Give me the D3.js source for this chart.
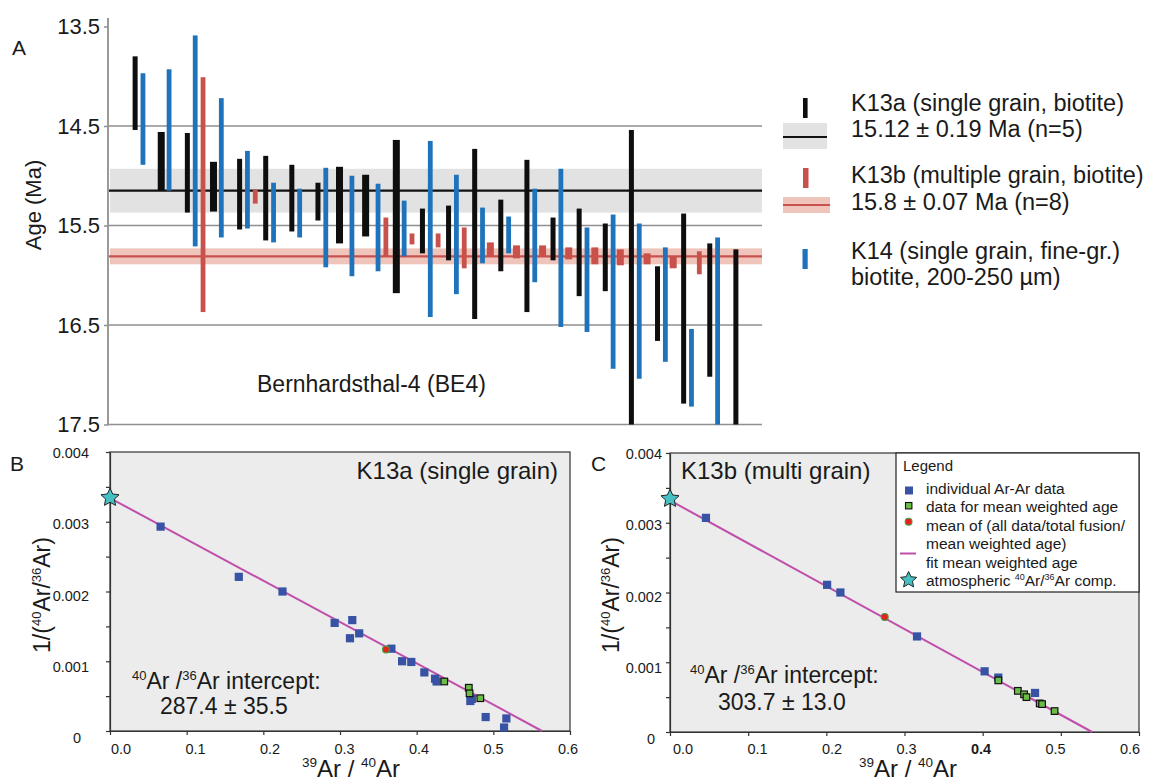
<!DOCTYPE html>
<html><head><meta charset="utf-8">
<script src="https://cdn.jsdelivr.net/npm/d3@7"></script>
<style>
body{margin:0;background:#fff}
svg{display:block}
text{font-family:"Liberation Sans",Arial,Helvetica,sans-serif;fill:#1a1a1a;white-space:pre}
</style>
</head><body>
<svg id="c" width="1154" height="783"></svg>
<script>
// ---------------- DATA ----------------
// Panel A: step-heating ages, [position along sequence (0-100), young age, old age] in Ma
const k13aBars = [
  [4,13.80,14.54],[8,14.56,15.15],[12,14.57,15.37],[16,14.86,15.36],[20,14.83,15.54],
  [24,14.80,15.65],[28,14.89,15.56],[32,15.07,15.45],[35.3,14.91,15.68],[39.3,14.99,15.61],
  [44,14.64,16.18],[48,15.33,15.78],[52,15.30,15.85],[56,14.73,16.44],[60,15.24,15.96],
  [64,14.84,16.37],[68,15.42,15.85],[72,15.33,16.21],[76,15.48,16.16],[80,14.54,17.5],
  [84,15.91,16.66],[88,15.38,17.29],[92,15.68,17.02],[96,15.74,17.5]
];
const k13bBars = [
  [14.4,14.01,16.37],[22.4,15.14,15.28],[42.4,15.42,15.81],[46.4,15.58,15.69],[50.4,15.58,15.72],
  [54.4,15.52,15.93],[58.4,15.67,15.81],[62.4,15.70,15.83],[66.4,15.70,15.81],[70.4,15.72,15.84],
  [74.4,15.72,15.89],[78.3,15.74,15.90],[82.4,15.78,15.89],[86.4,15.81,15.93],[90.4,15.76,15.99]
];
const k14Bars = [
  [5.2,13.97,14.89],[9.2,13.93,15.15],[13.2,13.59,15.71],[17.2,14.22,15.62],[21.2,14.75,15.53],
  [25.2,15.07,15.67],[29.2,15.13,15.62],[33.2,14.92,15.92],[37.2,15.00,16.01],[41.2,15.08,15.96],
  [45.2,15.25,15.81],[49.2,14.65,16.42],[53.2,14.99,16.19],[57.2,15.32,15.88],[61.2,15.41,15.78],
  [65.2,15.13,16.07],[69.2,14.93,16.52],[73.2,15.52,16.57],[77.2,15.39,16.94],[81.2,15.48,17.04],
  [85.2,15.72,16.87],[89.2,16.54,17.32],[93.2,15.62,17.5]
];
// weighted means [mean, band young, band old]
const k13aMean = [15.15, 14.93, 15.37];
const k13bMean = [15.81, 15.73, 15.89];
const ageTicks = [13.5, 14.5, 15.5, 16.5, 17.5];
const ageGrid = [14.5, 15.5, 16.5, 17.5];

// Panel B (K13a isochron)
const bBlueX = [0.066,0.168,0.225,0.293,0.316,0.313,0.325,0.367,0.381,0.393,0.410,0.424,0.426,0.470,0.472,0.490,0.517,0.514];
const bBlueY = [0.00293,0.00221,0.00200,0.00155,0.00159,0.00133,0.00140,0.00118,0.00100,0.00099,0.00084,0.00075,0.00071,0.00043,0.00046,0.00020,0.00018,0.00005];
const bGreenX = [0.436,0.468,0.469,0.483];
const bGreenY = [0.00071,0.00062,0.00054,0.00047];
const bMean = [0.360, 0.00117];
const bFit = [[0, 0.00334],[0.5635, 0]];

// Panel C (K13b isochron)
const cBlueX = [0.046,0.201,0.218,0.316,0.4025,0.420,0.467];
const cBlueY = [0.00307,0.00211,0.00200,0.00137,0.00087,0.00078,0.00056];
const cGreenX = [0.420,0.445,0.453,0.456,0.473,0.476,0.492];
const cGreenY = [0.00074,0.00059,0.00054,0.00050,0.00041,0.00040,0.00030];
const cMean = [0.2747, 0.00165];
const cFit = [[0, 0.00332],[0.54, 0]];

const atmPoint = [0, 0.003345];
const isoXTicks = [0, 0.1, 0.2, 0.3, 0.4, 0.5, 0.6];
const isoYTicks = [0, 0.001, 0.002, 0.003, 0.004];

// ---------------- STYLE ----------------
const COL = {black:'#0e0e0e', blue:'#1f73bb', red:'#c9514c', gray:'#e2e2e2', pink:'#efc4ba',
  grid:'#8f8f8f', sqBlue:'#3953a4', sqGreen:'#6abd45', dotRed:'#e8211d', star:'#45c1c3', fit:'#c04fab', frame:'#ebeceb'};
const wideK13a = new Set([1,3,8,9,10]);          // indices drawn wider
const wideK13b = new Set([6,7,8,9,10,11,12,13]);

const svg = d3.select('#c');

function rich(g, x, y, parts, size, supSize, anchor){
  const t = g.append('text').attr('x',x).attr('y',y).attr('font-size',size).attr('text-anchor',anchor||'start');
  let prev = false;
  parts.forEach(([s,sup]) => {
    const ts = t.append('tspan').text(s);
    if (sup){ ts.attr('font-size',supSize); if(!prev) ts.attr('dy', -size*0.4); }
    else if (prev) ts.attr('dy', size*0.4);
    prev = sup;
  });
  return t;
}
function starPath(cx, cy, R){
  const pts = d3.range(10).map(i => {
    const r = i%2 ? R*0.48 : R; const a = -Math.PI/2 + i*Math.PI/5;
    return [cx + r*Math.cos(a), cy + r*Math.sin(a)];
  });
  return d3.line()(pts) + 'Z';
}

// ---------------- PANEL A ----------------
const A = svg.append('g');
const xA = d3.scaleLinear().domain([0,100]).range([109,762]);
const yA = d3.scaleLinear().domain([13.5,17.5]).range([26.5,424.5]);

A.append('rect').attr('x',xA(0)+1).attr('width',xA(100)-xA(0)-1)
  .attr('y',yA(k13aMean[1])).attr('height',yA(k13aMean[2])-yA(k13aMean[1])).attr('fill',COL.gray);
A.append('rect').attr('x',xA(0)+1).attr('width',xA(100)-xA(0)-1)
  .attr('y',yA(k13bMean[1])).attr('height',yA(k13bMean[2])-yA(k13bMean[1])).attr('fill',COL.pink);

A.selectAll('line.grid').data(ageGrid).join('line').attr('class','grid')
  .attr('x1',xA(0)).attr('x2',xA(100)).attr('y1',d=>yA(d)).attr('y2',d=>yA(d))
  .attr('stroke',COL.grid).attr('stroke-width',1.6);

A.append('line').attr('x1',xA(0)).attr('x2',xA(100)).attr('y1',yA(k13aMean[0])).attr('y2',yA(k13aMean[0]))
  .attr('stroke','#111').attr('stroke-width',2.2);
A.append('line').attr('x1',xA(0)).attr('x2',xA(100)).attr('y1',yA(k13bMean[0])).attr('y2',yA(k13bMean[0]))
  .attr('stroke',COL.red).attr('stroke-width',2.2);

const axA = A.append('g').attr('transform',`translate(${xA(0)-1},0)`)
  .call(d3.axisLeft(yA).tickValues(ageTicks).tickSizeInner(4).tickSizeOuter(0).tickPadding(4).tickFormat(d3.format('.1f')));
axA.select('.domain').remove();
axA.selectAll('line').attr('stroke',COL.grid).attr('stroke-width',1.5);
axA.selectAll('text').attr('font-size',22).attr('fill','#1a1a1a').attr('font-family','"Liberation Sans",Arial,sans-serif');
A.append('line').attr('x1',xA(0)-1).attr('x2',xA(0)-1).attr('y1',18).attr('y2',yA(17.5)+1)
  .attr('stroke',COL.grid).attr('stroke-width',1.8);

function bars(data, color, wideSet, wN, wW){
  A.append('g').selectAll('rect').data(data).join('rect')
    .attr('x',(d,i)=>xA(d[0]) - (wideSet.has(i)?wW:wN)/2)
    .attr('width',(d,i)=>wideSet.has(i)?wW:wN)
    .attr('y',d=>yA(d[1])).attr('height',d=>yA(d[2])-yA(d[1]))
    .attr('fill',color);
}
bars(k13aBars, COL.black, wideK13a, 5, 7);
bars(k14Bars, COL.blue, new Set(), 4.8, 4.8);
bars(k13bBars, COL.red, wideK13b, 4.8, 7);

A.append('text').attr('x',12).attr('y',55).attr('font-size',21).text('A');
A.append('g').attr('transform','translate(41,205) rotate(-90)')
  .append('text').attr('text-anchor','middle').attr('font-size',22).text('Age (Ma)');
A.append('text').attr('x',257).attr('y',392).attr('font-size',23).text('Bernhardsthal-4 (BE4)');

// Legend A
const LA = svg.append('g');
LA.append('rect').attr('x',803).attr('y',98).attr('width',4.6).attr('height',20).attr('fill',COL.black);
LA.append('rect').attr('x',783).attr('y',123).attr('width',44).attr('height',26).attr('fill',COL.gray);
LA.append('line').attr('x1',783).attr('x2',827).attr('y1',137).attr('y2',137).attr('stroke','#111').attr('stroke-width',2);
LA.append('rect').attr('x',803).attr('y',168).attr('width',5.5).attr('height',20).attr('fill',COL.red);
LA.append('rect').attr('x',783).attr('y',197).attr('width',47).attr('height',16).attr('fill',COL.pink);
LA.append('line').attr('x1',783).attr('x2',830).attr('y1',205).attr('y2',205).attr('stroke',COL.red).attr('stroke-width',2);
LA.append('rect').attr('x',802.5).attr('y',249).attr('width',5.2).attr('height',20).attr('fill',COL.blue);
const legALines = [
  ['K13a (single grain, biotite)',111],['15.12 ± 0.19 Ma (n=5)',137],
  ['K13b (multiple grain, biotite)',183],['15.8 ± 0.07 Ma (n=8)',210],
  ['K14 (single grain, fine-gr.)',259],['biotite, 200-250 µm)',285]];
LA.selectAll('text').data(legALines).join('text').attr('x',851).attr('y',d=>d[1]).attr('font-size',23.5).text(d=>d[0]);

// ---------------- ISOCHRON PANELS ----------------
function iso(cfg){
  const g = svg.append('g');
  const xS = d3.scaleLinear().domain([0,0.6]).range([cfg.L,cfg.R]);
  const yS = d3.scaleLinear().domain([0,0.004]).range([cfg.B,cfg.T]);
  const xLab = d3.scaleLinear().domain([0,0.6]).range(cfg.xLab);
  const yLab = d3.scaleLinear().domain([0,0.004]).range(cfg.yLab);
  g.append('rect').attr('x',cfg.L).attr('y',cfg.T).attr('width',cfg.R-cfg.L).attr('height',cfg.B-cfg.T)
    .attr('fill',COL.frame).attr('stroke','#333').attr('stroke-width',1.2);
  const ay = g.append('g').attr('transform',`translate(${cfg.L},0)`)
    .call(d3.axisLeft(yS).tickValues(d3.range(0,0.00401,0.0005)).tickSizeInner(4).tickSizeOuter(0).tickFormat(''));
  const ax = g.append('g').attr('transform',`translate(0,${cfg.B})`)
    .call(d3.axisBottom(xS).tickValues(isoXTicks).tickSizeInner(4).tickSizeOuter(0).tickFormat(''));
  [ay,ax].forEach(a=>{a.selectAll('line,path').attr('stroke','#333').attr('stroke-width',1.2);});
  g.selectAll('text.xl').data(isoXTicks).join('text').attr('class','xl')
    .attr('x',d=>xLab(d)).attr('y',cfg.xLabY).attr('text-anchor','middle').attr('font-size',14.5)
    .attr('font-weight',d=>cfg.boldX===d?'bold':'normal').text(d=>d3.format('.1f')(d));
  g.selectAll('text.yl').data(isoYTicks).join('text').attr('class','yl')
    .attr('x',d=>d===0?cfg.zeroX:cfg.yLabX).attr('y',d=>yLab(d)).attr('dy','0.35em')
    .attr('text-anchor','end').attr('font-size',14.5).text(d=>d===0?'0':d3.format('.3f')(d));
  // fit line
  g.append('path').attr('d',d3.line().x(d=>xS(d[0])).y(d=>yS(d[1]))(cfg.fit))
    .attr('stroke',COL.fit).attr('stroke-width',2).attr('fill','none');
  const s = 8.2;
  g.append('g').selectAll('rect').data(d3.zip(cfg.bx,cfg.by)).join('rect')
    .attr('x',d=>xS(d[0])-s/2).attr('y',d=>yS(d[1])-s/2).attr('width',s).attr('height',s)
    .attr('fill',COL.sqBlue);
  const sg = 6.6;
  g.append('g').selectAll('rect').data(d3.zip(cfg.gx,cfg.gy)).join('rect')
    .attr('x',d=>xS(d[0])-sg/2).attr('y',d=>yS(d[1])-sg/2).attr('width',sg).attr('height',sg)
    .attr('fill',COL.sqGreen).attr('stroke','#111').attr('stroke-width',1.2);
  g.append('circle').attr('cx',xS(cfg.mean[0])).attr('cy',yS(cfg.mean[1])).attr('r',3.4)
    .attr('fill',COL.dotRed).attr('stroke','#3f9c3f').attr('stroke-width',1.2);
  g.append('path').attr('d',starPath(xS(atmPoint[0]),yS(atmPoint[1]),9.5))
    .attr('fill',COL.star).attr('stroke','#222').attr('stroke-width',1);
  // titles
  g.append('text').attr('x',cfg.letter[0]).attr('y',cfg.letter[1]).attr('font-size',21).text(cfg.letterText);
  g.append('text').attr('x',cfg.title[0]).attr('y',cfg.title[1]).attr('font-size',24)
    .attr('text-anchor',cfg.title[2]).text(cfg.titleText);
  rich(g, cfg.icpt[0], cfg.icpt[1], [['40',true],['Ar /',false],['36',true],['Ar intercept:',false]], 23, 13);
  g.append('text').attr('x',cfg.val[0]).attr('y',cfg.val[1]).attr('font-size',23).text(cfg.valText);
  rich(g, cfg.xTitle[0], 777, [['39',true],['Ar / ',false],['40',true],['Ar',false]], 24, 13.5, 'middle');
  const yt = g.append('g').attr('transform',`translate(${cfg.yTitleX},595) rotate(-90)`);
  rich(yt, 0, 0, [['1/(',false],['40',true],['Ar/',false],['36',true],['Ar)',false]], 23, 13, 'middle');
  return {g, xS, yS};
}

iso({L:110,R:570,T:452,B:731, xLab:[121,568], yLab:[738,453], xLabY:754, yLabX:89, zeroX:81,
  bx:bBlueX, by:bBlueY, gx:bGreenX, gy:bGreenY, mean:bMean, fit:bFit,
  letter:[10,471], letterText:'B', title:[558,479,'end'], titleText:'K13a (single grain)',
  icpt:[132,689], val:[160,714], valText:'287.4 ± 35.5', xTitle:[351], yTitleX:50});

iso({L:670,R:1139,T:453,B:732, xLab:[683,1130], yLab:[739,454], xLabY:754, yLabX:662, zeroX:655, boldX:0.4,
  bx:cBlueX, by:cBlueY, gx:cGreenX, gy:cGreenY, mean:cMean, fit:cFit,
  letter:[591,471], letterText:'C', title:[681,479,'start'], titleText:'K13b (multi grain)',
  icpt:[690,683], val:[718,710], valText:'303.7 ± 13.0', xTitle:[908], yTitleX:619});

// Legend in panel C
const LC = svg.append('g');
LC.append('rect').attr('x',896).attr('y',453).attr('width',243).attr('height',139)
  .attr('fill','#fff').attr('stroke','#222').attr('stroke-width',1.2);
LC.append('text').attr('x',903).attr('y',471).attr('font-size',15).text('Legend');
LC.append('rect').attr('x',905).attr('y',486.5).attr('width',8).attr('height',8).attr('fill',COL.sqBlue);
LC.append('rect').attr('x',905.5).attr('y',502.5).attr('width',6.4).attr('height',6.4).attr('fill',COL.sqGreen).attr('stroke','#111').attr('stroke-width',1.1);
LC.append('circle').attr('cx',908.6).attr('cy',521.7).attr('r',3.4).attr('fill',COL.dotRed).attr('stroke','#3f9c3f').attr('stroke-width',1.1);
LC.append('line').attr('x1',900).attr('x2',916).attr('y1',553.5).attr('y2',553.5).attr('stroke',COL.fit).attr('stroke-width',2);
LC.append('path').attr('d',starPath(908.6,580,8.5)).attr('fill',COL.star).attr('stroke','#222').attr('stroke-width',1);
const legC = [['individual Ar-Ar data',493.5],['data for mean weighted age',512],['mean of (all data/total fusion/',530.5],
  ['mean weighted age)',549],['fit mean weighted age',567.5]];
LC.selectAll('text.it').data(legC).join('text').attr('class','it').attr('x',926).attr('y',d=>d[1]).attr('font-size',15.5).text(d=>d[0]);
rich(LC, 926, 586, [['atmospheric ',false],['40',true],['Ar/',false],['36',true],['Ar comp.',false]], 15.5, 9);
</script>
</body></html>
